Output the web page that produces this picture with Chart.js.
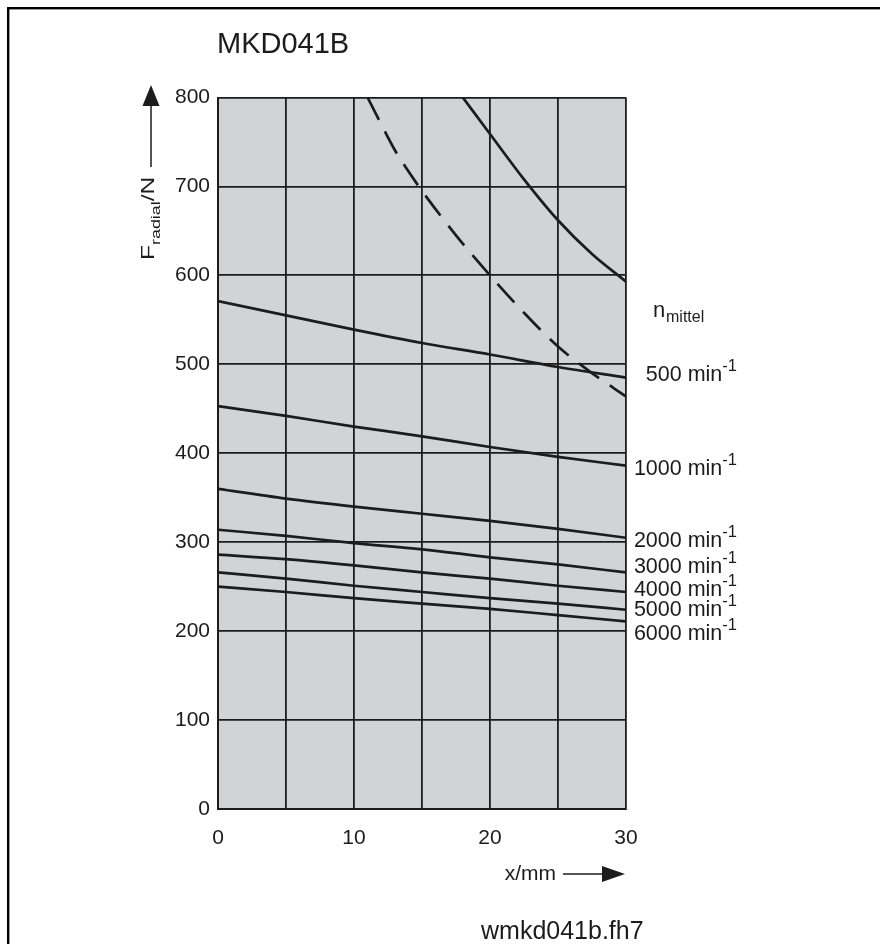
<!DOCTYPE html>
<html>
<head>
<meta charset="utf-8">
<title>MKD041B</title>
<script src="https://cdn.jsdelivr.net/npm/chart.js@4/dist/chart.umd.min.js"></script>
<style>
  html, body { margin: 0; padding: 0; background: #fff; }
  canvas { display: block; }
</style>
</head>
<body>
<canvas id="chart" width="880" height="944"></canvas>
<script>
// x positions (mm) where the speed curves were read
const xValues = [0, 5, 10, 15, 20, 25, 30];

// n_mittel curves, F_radial in N
const speeds = ['500', '1000', '2000', '3000', '4000', '5000', '6000'];
const f500  = [571, 555, 539, 524, 511, 497, 485];
const f1000 = [453, 442, 430, 419, 407, 396, 386];
const f2000 = [360, 349, 340, 332, 324, 315, 305];
const f3000 = [314, 307, 299, 292, 283, 275, 266];
const f4000 = [286, 281, 274, 266, 259, 251, 244];
const f5000 = [266, 259, 251, 244, 237, 231, 224];
const f6000 = [250, 244, 237, 231, 225, 218, 211];
const speedSeries = [f500, f1000, f2000, f3000, f4000, f5000, f6000];
// value (N) where each speed label sits at the right
const labelAt = [481, 375, 295, 265, 240, 217, 190];

// upper solid limit curve
const limitX = [18, 20, 22.5, 25, 27.5, 30];
const limitY = [800, 759, 708, 662, 624, 593];

// dashed limit curve
const dashX = [11, 12, 13, 14, 15, 17.5, 20, 22.5, 25, 27.5, 30];
const dashY = [800, 770, 741, 717, 695, 645, 600, 558, 520, 490, 464];

const xTicks = [0, 10, 20, 30];

const INK = '#1c1c1c';
const FONT = '"Liberation Sans", Arial, Helvetica, sans-serif';

const toPoints = (xs, ys) => xs.map((x, i) => ({ x, y: ys[i] }));

const curve = (data, dash) => ({
  data,
  borderColor: INK,
  borderWidth: 2.7,
  borderDash: dash || [],
  pointRadius: 0,
  fill: false,
  cubicInterpolationMode: 'monotone',
});

const datasets = [
  ...speedSeries.map(s => curve(toPoints(xValues, s))),
  curve(toPoints(limitX, limitY)),
  curve(toPoints(dashX, dashY), [25, 13]),
];

function arrowHead(ctx, tipX, tipY, dx, dy, len, half) {
  // dx,dy: unit direction the arrow points to
  const bx = tipX - dx * len, by = tipY - dy * len;
  ctx.beginPath();
  ctx.moveTo(tipX, tipY);
  ctx.lineTo(bx - dy * half, by + dx * half);
  ctx.lineTo(bx + dy * half, by - dx * half);
  ctx.closePath();
  ctx.fill();
}

const decor = {
  id: 'decor',
  beforeDraw(chart) {
    const { ctx, chartArea: a } = chart;
    ctx.save();
    ctx.fillStyle = '#d2d3d5';
    ctx.fillRect(a.left, a.top, a.right - a.left, a.bottom - a.top);
    ctx.restore();
  },
  afterDraw(chart) {
    const { ctx, chartArea: a } = chart;
    const y = chart.scales.y;
    ctx.save();

    // frame (top and left edge only)
    ctx.fillStyle = '#000';
    ctx.fillRect(7, 7, 880, 2.4);
    ctx.fillRect(7, 7, 2.4, 944);

    ctx.fillStyle = INK;
    ctx.strokeStyle = INK;

    // title
    ctx.textBaseline = 'alphabetic';
    ctx.textAlign = 'left';
    ctx.font = '29px ' + FONT;
    ctx.fillText('MKD041B', a.left - 1, 53);

    // n_mittel
    ctx.font = '22px ' + FONT;
    ctx.fillText('n', 653, 317);
    ctx.font = '16px ' + FONT;
    ctx.fillText('mittel', 666, 322);

    // speed labels, right aligned with superscript -1
    const right = a.right + 111;
    speeds.forEach((s, i) => {
      const py = y.getPixelForValue(labelAt[i]);
      ctx.font = '16.5px ' + FONT;
      const supW = ctx.measureText('-1').width;
      ctx.textAlign = 'left';
      ctx.fillText('-1', right - supW, py - 10);
      ctx.font = '21.5px ' + FONT;
      ctx.textAlign = 'right';
      ctx.fillText(s + ' min', right - supW, py);
    });

    // y axis title, rotated and stretched along the baseline
    ctx.save();
    ctx.translate(153.5, 260);
    ctx.rotate(-Math.PI / 2);
    ctx.scale(1.4, 1);
    ctx.textAlign = 'left';
    ctx.font = '17.5px ' + FONT;
    ctx.fillText('F', 0, 0);
    let w = ctx.measureText('F').width;
    ctx.font = '12.8px ' + FONT;
    ctx.fillText('radial', w, 6.5);
    w += ctx.measureText('radial').width;
    ctx.font = '17.5px ' + FONT;
    ctx.fillText('/N', w, 0);
    ctx.restore();

    // y arrow
    ctx.lineWidth = 1.5;
    ctx.beginPath();
    ctx.moveTo(151, 167);
    ctx.lineTo(151, 100);
    ctx.stroke();
    arrowHead(ctx, 151, 85, 0, -1, 21, 8.5);

    // x title and arrow
    ctx.font = '21px ' + FONT;
    ctx.textAlign = 'right';
    ctx.textBaseline = 'middle';
    ctx.fillText('x/mm', 556, 874);
    ctx.beginPath();
    ctx.moveTo(563, 874);
    ctx.lineTo(606, 874);
    ctx.stroke();
    arrowHead(ctx, a.right - 1, 874, 1, 0, 23, 8);

    // file name
    ctx.textAlign = 'left';
    ctx.textBaseline = 'alphabetic';
    ctx.font = '25px ' + FONT;
    ctx.fillText('wmkd041b.fh7', 481, 939);
    ctx.restore();
  },
};

new Chart(document.getElementById('chart'), {
  type: 'line',
  data: { datasets },
  plugins: [decor],
  options: {
    responsive: false,
    animation: false,
    events: [],
    layout: { padding: { left: 0, top: 97.5, right: 254, bottom: 0 } },
    plugins: {
      legend: { display: false },
      tooltip: { enabled: false },
    },
    scales: {
      x: {
        type: 'linear',
        min: 0,
        max: 30,
        afterFit: s => { s.height = 944 - 809; },
        afterBuildTicks: s => { s.ticks = [0, 5, 10, 15, 20, 25, 30].map(v => ({ value: v })); },
        grid: { color: INK, lineWidth: 1.8, drawTicks: false },
        border: { color: INK, width: 2 },
        ticks: {
          autoSkip: false,
          maxRotation: 0,
          padding: 17,
          color: INK,
          font: { family: FONT, size: 21 },
          callback: v => (xTicks.includes(v) ? v : ''),
        },
      },
      y: {
        min: 0,
        max: 800,
        afterFit: s => { s.width = 218; },
        grid: { color: INK, lineWidth: 1.8, drawTicks: false },
        border: { color: INK, width: 2 },
        ticks: {
          stepSize: 100,
          padding: 8,
          color: INK,
          font: { family: FONT, size: 21 },
        },
      },
    },
  },
});
</script>
</body>
</html>
